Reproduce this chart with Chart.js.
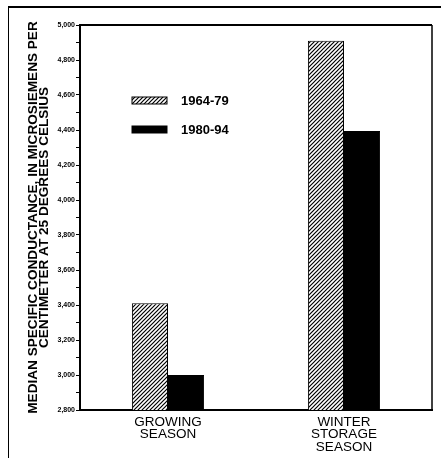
<!DOCTYPE html>
<html>
<head>
<meta charset="utf-8">
<script src="https://cdn.jsdelivr.net/npm/chart.js@4"></script>
<style>
  html, body { margin: 0; padding: 0; background: #fff; }
  #wrap { position: relative; width: 441px; height: 461px; overflow: hidden; }
  #frame { position: absolute; left: 8px; top: 6px; width: 441px; height: 450px;
           border-top: 2px solid #000; border-left: 1px solid #000; }
  #chart { position: absolute; left: 0; top: 0; }
</style>
</head>
<body>
<div id="wrap">
  <div id="frame"></div>
  <canvas id="chart" width="441" height="461"></canvas>
</div>
<script>
const seasons = [["GROWING", "SEASON"], ["WINTER", "STORAGE", "SEASON"]];
const period1Label = "1964-79";
const period2Label = "1980-94";
const period1Values = [3410, 4910];
const period2Values = [3000, 4395];
const yMin = 2800;
const yMax = 5000;

function makeHatch() {
  const c = document.createElement("canvas");
  c.width = 4;
  c.height = 4;
  const g = c.getContext("2d");
  g.fillStyle = "#fff";
  g.fillRect(0, 0, 4, 4);
  g.strokeStyle = "#000";
  g.lineWidth = 1.2;
  g.beginPath();
  g.moveTo(-1, 5); g.lineTo(5, -1);
  g.moveTo(-1, 1); g.lineTo(1, -1);
  g.moveTo(3, 5); g.lineTo(5, 3);
  g.stroke();
  return g.createPattern(c, "repeat");
}

const hatch = makeHatch();

// frame around plot + legend inside plot area
const framePlugin = {
  id: "framePlugin",
  afterDraw(chart) {
    const { ctx, chartArea: a } = chart;
    ctx.save();
    ctx.strokeStyle = "#000";
    ctx.lineWidth = 2;
    ctx.beginPath();
    ctx.moveTo(a.left, a.top);
    ctx.lineTo(a.right, a.top);
    ctx.stroke();
    ctx.lineWidth = 1.5;
    ctx.beginPath();
    ctx.moveTo(a.right, a.top);
    ctx.lineTo(a.right, a.bottom);
    ctx.stroke();

    const items = [
      { fill: hatch, label: chart.data.datasets[0].label, y: a.top + 75 },
      { fill: "#000", label: chart.data.datasets[1].label, y: a.top + 104 },
    ];
    ctx.font = "bold 13px 'Liberation Sans', Arial, sans-serif";
    ctx.textBaseline = "middle";
    items.forEach(function (it) {
      ctx.fillStyle = it.fill;
      ctx.fillRect(a.left + 52, it.y - 3, 35, 7);
      ctx.lineWidth = 1;
      ctx.strokeRect(a.left + 52, it.y - 3, 35, 7);
      ctx.fillStyle = "#000";
      ctx.fillText(it.label, a.left + 101, it.y + 1);
    });
    ctx.restore();
  },
};

new Chart(document.getElementById("chart"), {
  type: "bar",
  data: {
    labels: seasons,
    datasets: [
      {
        label: period1Label,
        data: period1Values,
        backgroundColor: hatch,
        borderColor: "#000",
        borderWidth: 1,
        borderSkipped: "bottom",
      },
      {
        label: period2Label,
        data: period2Values,
        backgroundColor: "#000",
        borderColor: "#000",
        borderWidth: 1,
        borderSkipped: "bottom",
      },
    ],
  },
  options: {
    responsive: false,
    animation: false,
    devicePixelRatio: 1,
    layout: { padding: { left: 0, right: 9, top: 25, bottom: 0 } },
    datasets: { bar: { categoryPercentage: 0.41, barPercentage: 1.0 } },
    scales: {
      x: {
        grid: { display: false, drawTicks: false },
        border: { display: true, color: "#000", width: 2 },
        ticks: {
          color: "#000",
          padding: 6,
          font: { family: "'Liberation Sans', Arial, sans-serif", size: 13.5, lineHeight: 0.92 },
        },
        afterFit(scale) { scale.height = 51; },
      },
      y: {
        min: yMin,
        max: yMax,
        grid: { drawOnChartArea: false, drawTicks: true, tickLength: 4, tickColor: "#000", tickWidth: 1 },
        border: { display: true, color: "#000", width: 2 },
        ticks: {
          stepSize: 100,
          padding: 1,
          color: "#000",
          font: { family: "'Liberation Sans', Arial, sans-serif", size: 7, weight: "bold" },
          callback: function (v) { return v % 200 === 0 ? v.toLocaleString("en-US") : ""; },
        },
        title: {
          display: true,
          text: ["MEDIAN SPECIFIC CONDUCTANCE, IN MICROSIEMENS PER", "CENTIMETER AT 25 DEGREES CELSIUS"],
          color: "#000",
          padding: { top: 27, bottom: 0 },
          font: { family: "'Liberation Sans', Arial, sans-serif", size: 13.6, weight: "bold", lineHeight: 0.85 },
        },
        afterFit(scale) { scale.width = 80; },
      },
    },
    plugins: {
      legend: { display: false },
      tooltip: { enabled: false },
    },
  },
  plugins: [framePlugin],
});
</script>
</body>
</html>
